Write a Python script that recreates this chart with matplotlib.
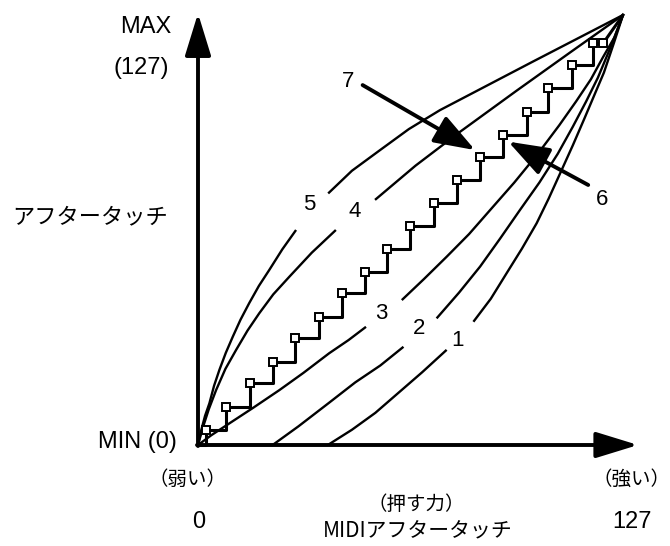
import numpy as np
import matplotlib
matplotlib.use("Agg")
import matplotlib.pyplot as plt

plt.rcParams['font.family'] = ['Liberation Sans', 'DejaVu Sans']
JP = ['Noto Sans CJK JP', 'DejaVu Sans']

# curves 1-5 (MIDI aftertouch 0-127 -> aftertouch 0-127), nan = gap for the label
c1_x = [0, 38.8, 46, 53, 60, 67, 74.3, np.nan,
        82.3, 87.5, 92.2, 96.8, 101.2, 104.8, 108.2, 112, 115.5, 118.5, 121.3, 124.2, 127]
c1_y = [0, 0, 4.5, 9.5, 15.5, 21.5, 28.1, np.nan,
        36.4, 43.2, 50.7, 58.0, 65.5, 72.8, 80.2, 88.5, 96.5, 103.5, 110.0, 118.5, 127]
c2_x = [0, 22.3, 30, 39.2, 47, 54.5, 61.4, np.nan,
        71.3, 78, 84.3, 90.3, 96.2, 102, 107.5, 112, 116, 119.5, 123.3, 127]
c2_y = [0, 0, 5.5, 12.5, 18.5, 23.5, 29.0, np.nan,
        37.4, 45, 52.7, 61, 69.4, 77.5, 86, 94, 101.5, 108.5, 117.5, 127]
c3_x = [0, 4, 9.4, 16.5, 24.3, 31.5, 39.2, 45, 50.2, np.nan,
        60.9, 67.5, 74.3, 81, 87.3, 94.5, 101.7, 108, 113, 117.4, 121, 124.5, 127]
c3_y = [0, 2.9, 6.4, 11, 16.2, 21.3, 27.1, 31, 34.9, np.nan,
        42.8, 49, 55.6, 62.3, 69.4, 77.5, 86.2, 94.5, 101.5, 108, 114.5, 120.5, 127]
c4_x = [0, 1.5, 3.2, 5.4, 8.2, 11.4, 14.8, 18.3, 22.5, 27.3, 34, 41.2, np.nan,
        52.9, 65, 78.3, 95, 111, 127]
c4_y = [0, 5.3, 10.5, 16.2, 22.5, 28.1, 33.8, 38.9, 44.5, 49.7, 56.8, 63.5, np.nan,
        72.4, 82.5, 92.5, 104.5, 115.8, 127]
c5_x = [0, 1, 2.1, 3.4, 4.8, 6.4, 8.3, 10.4, 12.7, 15.3, 18.2, 21.3, 25.2, 29.3, np.nan,
        38.9, 46, 54.4, 63, 72.3, 100, 127]
c5_y = [0, 4.5, 8.6, 12.3, 17.5, 22.2, 27.2, 32.0, 37, 41.9, 47, 51.7, 57.8, 63.5, np.nan,
        74.3, 81, 87.1, 93.3, 98.9, 113.2, 127]

# stepped curve (squares at the step corners)
step_x = [0, 2.4, 8.5, 15.4, 22.4, 29.1, 36.2, 42.9, 49.8, 56.6, 63.4, 70.5,
          77.3, 84.3, 91.0, 98.2, 104.7, 111.7, 118.1, 121.1]
step_y = [0, 4.4, 11.3, 18.2, 24.6, 31.5, 37.9, 44.8, 51.2, 57.9, 64.7, 71.4,
          78.3, 85.1, 91.6, 98.4, 105.4, 112.2, 118.7, 118.7]
top = (127, 127)

curve_labels = ['1', '2', '3', '4', '5']
label_x = [77.5, 66.1, 54.8, 46.7, 33.3]
label_y = [31.0, 34.5, 38.9, 68.9, 70.9]

# arrows 6 and 7: (tail, head)
arrow6 = ((116.6, 76.8), (92.7, 89.6))
arrow7 = ((49.2, 106.3), (82.8, 87.1))

W, H = 670, 546
fig = plt.figure(figsize=(W / 100, H / 100), dpi=100)
ax = fig.add_axes([198 / W, 101 / H, 425 / W, 430 / H])
ax.set_xlim(0, 127)
ax.set_ylim(0, 127)
ax.axis('off')

for xs, ys in [(c1_x, c1_y), (c2_x, c2_y), (c3_x, c3_y), (c4_x, c4_y), (c5_x, c5_y)]:
    ax.plot(xs, ys, color='black', lw=1.7, clip_on=False, solid_capstyle='butt',
            solid_joinstyle='round')

ax.plot(step_x, step_y, color='black', lw=2.2, drawstyle='steps-post', clip_on=False)
ax.plot([step_x[-1], top[0]], [step_y[-1], top[1]], color='black', lw=2.2, clip_on=False)
ax.plot(step_x[1:], step_y[1:], ls='none', marker='s', ms=6, mfc='white',
        mec='black', mew=1.4, clip_on=False, zorder=3)

for t, x, y in zip(curve_labels, label_x, label_y):
    ax.text(x, y, t, fontsize=16, ha='center', va='center')

for num, (tail, head), lx, ly in [('6', arrow6, 120.6, 72.4), ('7', arrow7, 44.7, 107.3)]:
    ax.annotate('', xy=head, xytext=tail,
                arrowprops=dict(arrowstyle='-|>,head_length=1.4,head_width=0.5',
                                mutation_scale=18, lw=2.8, color='black',
                                shrinkA=0, shrinkB=0))
    ax.text(lx, ly, num, fontsize=16, ha='center', va='center')

# axes with arrow heads
axis_style = dict(arrowstyle='-|>,head_length=1.3,head_width=0.4',
                  mutation_scale=20, lw=2.8, color='black', shrinkA=0, shrinkB=0)
ax.annotate('', xy=(0, 127.5), xytext=(0, -0.3), arrowprops=axis_style, annotation_clip=False)
ax.annotate('', xy=(131.5, 0), xytext=(-0.3, 0), arrowprops=axis_style, annotation_clip=False)

def ftext(x, y, s, **kw):
    fig.text(x / W, 1 - y / H, s, **kw)

ftext(146, 27, 'MAX', fontsize=17, ha='center', va='center')
ftext(141, 68, '(127)', fontsize=17, ha='center', va='center')
ftext(12, 217, 'アフタータッチ', fontsize=16, ha='left', va='center', family=JP)
ftext(177, 442, 'MIN (0)', fontsize=17, ha='right', va='center')
ftext(188, 479, '（弱い）', fontsize=14, ha='center', va='center', family=JP)
ftext(199, 522, '0', fontsize=17, ha='center', va='center')
ftext(416, 504, '（押す力）', fontsize=14, ha='center', va='center', family=JP)
ftext(418, 531, 'MIDIアフタータッチ', fontsize=15, ha='center', va='center', family=JP)
ftext(632, 479, '（強い）', fontsize=14, ha='center', va='center', family=JP)
ftext(632, 522, '127', fontsize=17, ha='center', va='center')

fig.savefig('out.png', dpi=100, facecolor='white')
